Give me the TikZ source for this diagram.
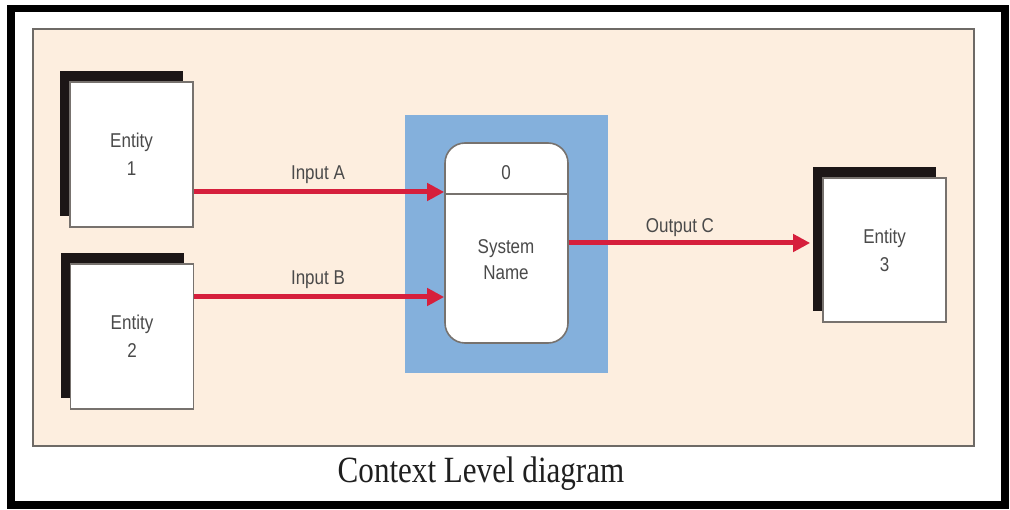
\documentclass[tikz,border=0pt]{standalone}
\usepackage{fontspec}
\setmainfont{Liberation Sans}
\newfontfamily\labelfont[FakeStretch=0.85]{Liberation Sans}
\newfontfamily\captionfont[FakeStretch=0.84]{Liberation Serif}
\usetikzlibrary{arrows.meta,shadows}

\definecolor{panel}{HTML}{FDEEDF}
\definecolor{panelrule}{HTML}{6E6A66}
\definecolor{sysblue}{HTML}{84B0DC}
\definecolor{flowred}{HTML}{D61F3C}
\definecolor{inktext}{HTML}{4A4A4A}
\definecolor{boxrule}{HTML}{77726E}
\definecolor{shadowink}{HTML}{1C1616}

\tikzset{
  entity/.style={draw=boxrule, line width=1.6pt, fill=white,
    minimum width=123pt, minimum height=145pt, inner sep=0pt,
    align=center, text=inktext,
    font=\labelfont\fontsize{20}{28}\selectfont,
    drop shadow={shadow xshift=-10pt, shadow yshift=11pt,
      fill=shadowink, opacity=1}},
  flow/.style={draw=flowred, line width=5pt,
    -{Triangle[length=17pt,width=17pt]}},
  flowlabel/.style={text=inktext, font=\labelfont\fontsize{20}{24}\selectfont,
    inner sep=0pt},
}

\begin{document}
\begin{tikzpicture}[x=1pt,y=-1pt]
\useasboundingbox (0,0) rectangle (1010,510);
\fill[white] (0,0) rectangle (1010,510);

% outer frame and the diagram panel
\draw[line width=7.5pt] (11,8.5) rectangle (1005,505);
\draw[fill=panel, draw=panelrule, line width=2pt] (33,29) rectangle (974,446);

% external entities
\node[entity] (e1) at (131.5,154.5) {Entity\\1};
\node[entity] (e2) at (132,336.5) {Entity\\2};
\node[entity, minimum height=144pt] (e3) at (884.5,250) {Entity\\3};

% the system process on its blue backdrop
\node[fill=sysblue, minimum width=203pt, minimum height=258pt, inner sep=0pt]
  (sysbg) at (506.5,244) {};
\node[draw=boxrule, line width=1.6pt, fill=white, rounded corners=20pt,
  minimum width=123pt, minimum height=200pt, inner sep=0pt] (proc) at (506.5,243) {};
\draw[boxrule, line width=1.6pt] (proc.west |- 0,194) -- (proc.east |- 0,194);
\node[text=inktext, font=\labelfont\fontsize{20}{24}\selectfont] (pid) at (506,173) {0};
\node[text=inktext, align=center, font=\labelfont\fontsize{20}{26}\selectfont]
  (pname) at (506,260) {System\\Name};

% data flows
\draw[flow] (e1.east |- 0,192) -- (proc.west |- 0,192);
\draw[flow] (e2.east |- 0,297) -- (proc.west |- 0,297);
\draw[flow, shorten >=12pt] (proc.east |- 0,243) -- (e3.west |- 0,243);

\node[flowlabel] (la) at (318,175) {Input A};
\node[flowlabel] (lb) at (318,280) {Input B};
\node[flowlabel] (lc) at (680,228) {Output C};

% caption
\node[anchor=base, text=black!88, inner sep=0pt,
  font=\captionfont\fontsize{37}{40}\selectfont] (cap) at (481,483)
  {Context Level diagram};
\end{tikzpicture}
\end{document}
